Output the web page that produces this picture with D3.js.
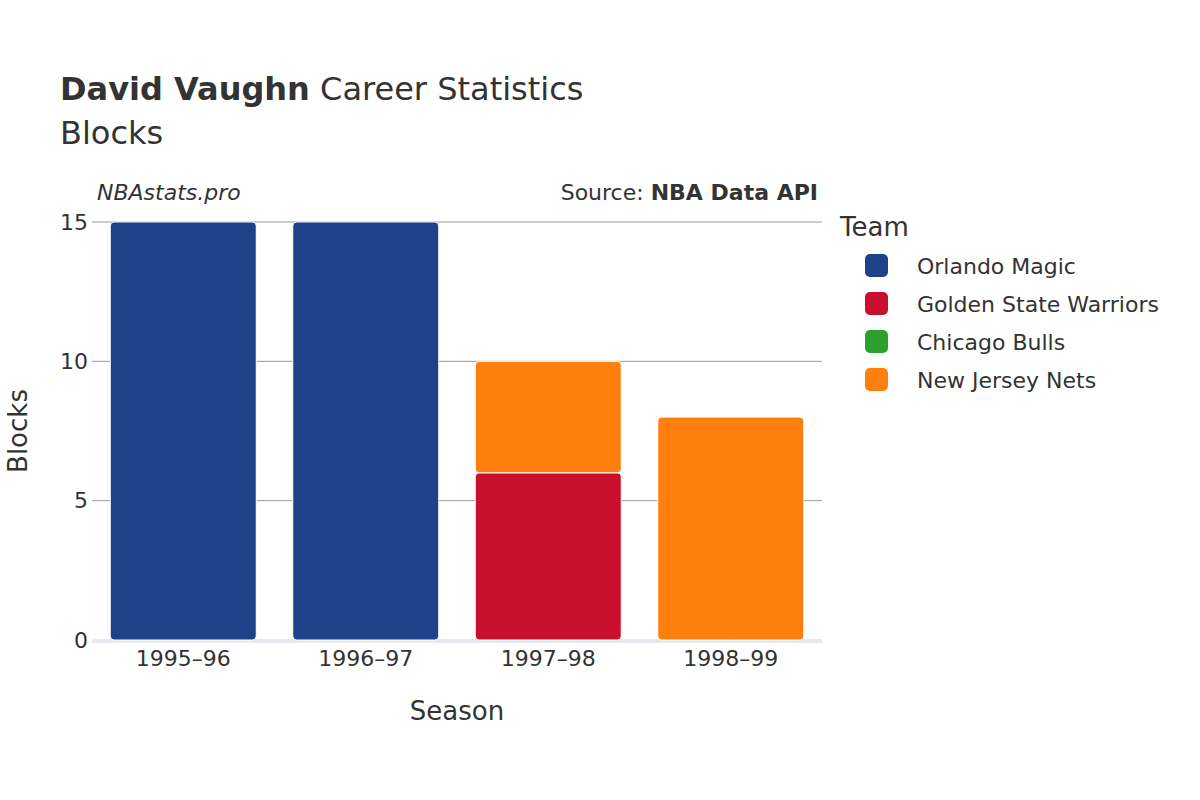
<!DOCTYPE html>
<html><head><meta charset="utf-8">
<script src="https://cdn.jsdelivr.net/npm/d3@7"></script>
<style>body{margin:0;background:#fff;font-family:"DejaVu Sans",sans-serif;}</style>
</head><body><div id="chart"></div>
<script>
const seasons = ["1995–96", "1996–97", "1997–98", "1998–99"];
const teams = ["Orlando Magic", "Golden State Warriors", "Chicago Bulls", "New Jersey Nets"];
const colours = ["#1d4289", "#c8102e", "#2ca02c", "#ff7f0e"];
const orlando = [15, 15, 0, 0];
const golden = [0, 0, 6, 0];
const chicago = [0, 0, 0, 0];
const nets = [0, 0, 4, 8];
const yTicks = [0, 5, 10, 15];

const series = [orlando, golden, chicago, nets];
const rows = seasons.map((s, i) => {
  const r = { season: s };
  teams.forEach((t, j) => r[t] = series[j][i]);
  return r;
});
const stacked = d3.stack().keys(teams)(rows);

const svg = d3.select("#chart").append("svg").attr("width", 1200).attr("height", 800);
const L = 92, R = 822, T = 222, B = 640;
const x = d3.scaleBand().domain(seasons).range([L, R]).paddingInner(0.2).paddingOuter(0.1);
const y = d3.scaleLinear().domain([0, 15]).range([B, T]);
const col = d3.scaleOrdinal().domain(teams).range(colours);

svg.append("text").attr("x", 60).attr("y", 100).attr("font-size", 32).attr("fill", "#333")
  .html('<tspan font-weight="bold">David Vaughn</tspan> Career Statistics');
svg.append("text").attr("x", 60).attr("y", 144).attr("font-size", 32).attr("fill", "#333").text("Blocks");
svg.append("text").attr("x", 97).attr("y", 200).attr("font-size", 22).attr("font-style", "italic").attr("fill", "#333").text("NBAstats.pro");
svg.append("text").attr("x", 818).attr("y", 200).attr("font-size", 22).attr("text-anchor", "end").attr("fill", "#333")
  .html('Source: <tspan font-weight="bold">NBA Data API</tspan>');

// grid
svg.append("g").selectAll("line").data(yTicks.filter(d => d > 0)).join("line")
  .attr("x1", L).attr("x2", R).attr("y1", d => y(d)).attr("y2", d => y(d))
  .attr("stroke", "#999").attr("stroke-width", 1);
svg.append("line").attr("x1", L).attr("x2", R).attr("y1", B + 1).attr("y2", B + 1)
  .attr("stroke", "#e8e8ee").attr("stroke-width", 4);

const yAxis = svg.append("g").attr("transform", `translate(${L},0)`)
  .call(d3.axisLeft(y).tickValues(yTicks).tickSize(0).tickPadding(4));
yAxis.select(".domain").remove();
yAxis.selectAll("text").attr("font-size", 22).attr("fill", "#333").attr("font-family", "DejaVu Sans");

const xAxis = svg.append("g").attr("transform", `translate(0,${B})`)
  .call(d3.axisBottom(x).tickSize(0).tickPadding(10));
xAxis.select(".domain").remove();
xAxis.selectAll("text").attr("font-size", 22).attr("fill", "#333").attr("font-family", "DejaVu Sans");

svg.append("text").attr("x", (L + R) / 2).attr("y", 720).attr("text-anchor", "middle")
  .attr("font-size", 26).attr("fill", "#333").text("Season");
svg.append("text").attr("transform", `translate(27,${(T + B) / 2}) rotate(-90)`).attr("text-anchor", "middle")
  .attr("font-size", 26).attr("fill", "#333").text("Blocks");

stacked.forEach(layer => {
  svg.append("g").selectAll("rect").data(layer.filter(d => d[1] > d[0])).join("rect")
    .attr("x", d => x(d.data.season)).attr("width", x.bandwidth())
    .attr("y", d => y(d[1])).attr("height", d => y(d[0]) - y(d[1]))
    .attr("rx", 4).attr("fill", col(layer.key)).attr("stroke", "#fff").attr("stroke-width", 1);
});

svg.append("text").attr("x", 840).attr("y", 236).attr("font-size", 26).attr("fill", "#333").text("Team");
const lg = svg.append("g").selectAll("g").data(teams).join("g")
  .attr("transform", (d, i) => `translate(865,${254 + i * 38})`);
lg.append("rect").attr("width", 23).attr("height", 23).attr("rx", 5).attr("fill", d => col(d));
lg.append("text").attr("x", 52).attr("y", 20).attr("font-size", 22).attr("fill", "#333").text(d => d);
</script></body></html>
